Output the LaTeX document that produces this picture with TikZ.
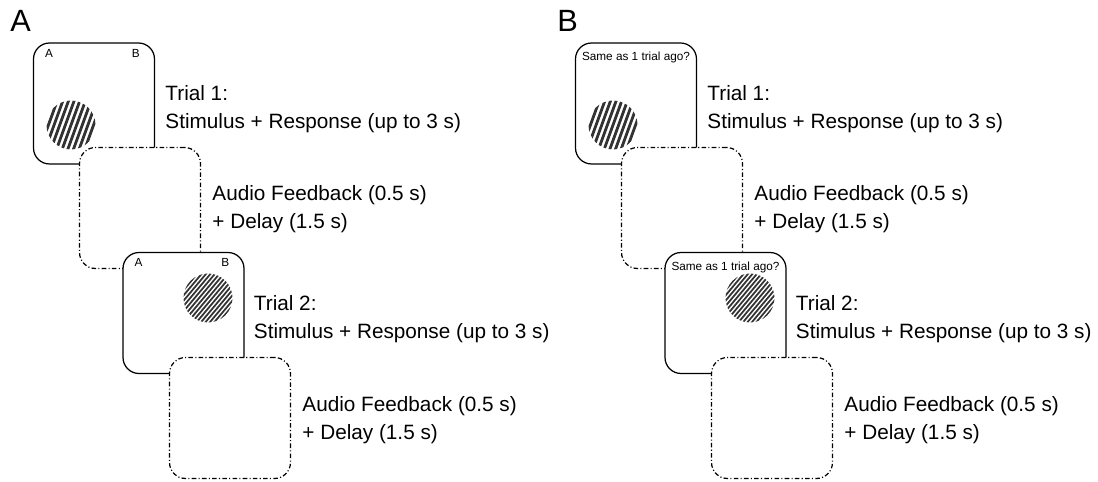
\documentclass[tikz,border=0pt]{standalone}
\usepackage{fontspec}
\setmainfont{Liberation Sans}
\usetikzlibrary{positioning}
\tikzset{
screenbox/.style={draw, line width=0.7pt, rounded corners=0.32cm, fill=white, minimum width=2.42cm, minimum height=2.42cm, inner sep=0pt}, % one screen of a trial
blankbox/.style={screenbox, dash pattern=on 2.6pt off 1.3pt on 0.6pt off 1.3pt}, % the feedback / delay screen
trialtext/.style={font=\fontsize{11.8}{15.9}\selectfont, align=left, inner sep=0pt, anchor=base west},
cornertext/.style={font=\fontsize{6.7}{8}\selectfont, inner sep=0pt},
paneltag/.style={font=\fontsize{17.5}{20}\selectfont, inner sep=0pt, anchor=base west},
}
% striped disc: centre, angle, period, stripe width
\newcommand{\gabor}[4]{%
\begin{scope}
\clip (#1) circle (24.5);
\foreach \k in {-10,...,10}
  \draw[shift={(#1)}, rotate=#2, black!80, line width=#4] (\k*#3,-30) -- (\k*#3,30);
\end{scope}}

\begin{document}
\begin{tikzpicture}[x=0.02cm, y=-0.02cm]
\useasboundingbox (0,0) rectangle (1098,482);

% panel A
\node[paneltag] (tagA) at (10,32) {A};

\node[screenbox] (a1) at (94,103.5) {};
\node[cornertext, anchor=base west] (a1l) at ([xshift=0.24cm, yshift=-0.3cm]a1.north west) {A};
\node[cornertext, anchor=base east] (a1r) at ([xshift=-0.3cm, yshift=-0.3cm]a1.north east) {B};
\coordinate (ga1) at ([shift={(-23,21.5)}]a1.center);
\gabor{ga1}{-20}{5.3}{1.6pt}
\node[trialtext] (ta1) at ([xshift=0.2cm, yshift=-1.72cm]a1.north east) {Trial 1:\\Stimulus + Response (up to 3 s)};

\node[blankbox] (a2) at ([shift={(46,104.5)}]a1.center) {};
\node[trialtext] (ta2) at ([xshift=0.22cm, yshift=-1.64cm]a2.north east) {Audio Feedback (0.5 s)\\+ Delay (1.5 s)};

\node[screenbox] (a3) at ([shift={(43.5,105)}]a2.center) {};
\node[cornertext, anchor=base west] (a3l) at ([xshift=0.24cm, yshift=-0.3cm]a3.north west) {A};
\node[cornertext, anchor=base east] (a3r) at ([xshift=-0.3cm, yshift=-0.3cm]a3.north east) {B};
\coordinate (ga3) at ([shift={(24.5,-15)}]a3.center);
\gabor{ga3}{-40}{3.4}{1pt}
\node[trialtext] (ta3) at ([xshift=0.18cm, yshift=-1.74cm]a3.north east) {Trial 2:\\Stimulus + Response (up to 3 s)};

\node[blankbox] (a4) at ([shift={(46.5,105)}]a3.center) {};
\node[trialtext] (ta4) at ([xshift=0.22cm, yshift=-1.66cm]a4.north east) {Audio Feedback (0.5 s)\\+ Delay (1.5 s)};

% panel B
\node[paneltag] (tagB) at (557,32) {B};

\node[screenbox] (b1) at (636,103.5) {};
\node[cornertext, anchor=base] (b1q) at ([yshift=-0.36cm]b1.north) {Same as 1 trial ago?};
\coordinate (gb1) at ([shift={(-23,21.5)}]b1.center);
\gabor{gb1}{-20}{5.3}{1.6pt}
\node[trialtext] (tb1) at ([xshift=0.2cm, yshift=-1.72cm]b1.north east) {Trial 1:\\Stimulus + Response (up to 3 s)};

\node[blankbox] (b2) at ([shift={(46,104.5)}]b1.center) {};
\node[trialtext] (tb2) at ([xshift=0.22cm, yshift=-1.64cm]b2.north east) {Audio Feedback (0.5 s)\\+ Delay (1.5 s)};

\node[screenbox] (b3) at ([shift={(43.5,105)}]b2.center) {};
\node[cornertext, anchor=base] (b3q) at ([yshift=-0.38cm]b3.north) {Same as 1 trial ago?};
\coordinate (gb3) at ([shift={(24.5,-15)}]b3.center);
\gabor{gb3}{-40}{3.4}{1pt}
\node[trialtext] (tb3) at ([xshift=0.18cm, yshift=-1.74cm]b3.north east) {Trial 2:\\Stimulus + Response (up to 3 s)};

\node[blankbox] (b4) at ([shift={(46.5,105)}]b3.center) {};
\node[trialtext] (tb4) at ([xshift=0.22cm, yshift=-1.66cm]b4.north east) {Audio Feedback (0.5 s)\\+ Delay (1.5 s)};

\end{tikzpicture}
\end{document}
